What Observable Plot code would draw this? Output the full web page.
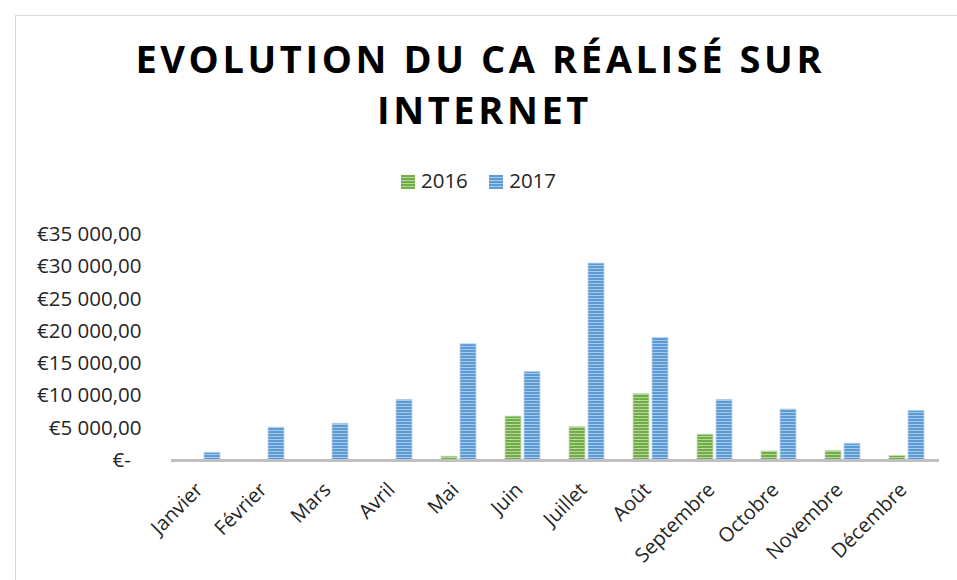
<!DOCTYPE html>
<html>
<head>
<meta charset="utf-8">
<script src="https://cdn.jsdelivr.net/npm/d3@7"></script>
<script src="https://cdn.jsdelivr.net/npm/@observablehq/plot@0.6"></script>
<style>
  html, body { margin: 0; padding: 0; width: 957px; height: 580px; overflow: hidden; background: #fff; }
  #frame { position: absolute; left: 15px; top: 15px; width: 1000px; height: 700px; border: 1px solid #d9d9d9; }
  #title { position: absolute; left: 0; width: 957px; top: 33px; text-align: center; font-family: "Open Sans", sans-serif; font-weight: 700; font-size: 38px; letter-spacing: 3.6px; line-height: 51px; color: #000; }
  #title span.l1 { margin-right: -3.6px; }
  #title span.l2 { margin-left: 12px; }
  #legend { position: absolute; left: 0; width: 957px; top: 166px; text-align: center; font-family: "Open Sans", sans-serif; font-size: 20.5px; color: #262626; }
  #legend span.sw { display: inline-block; width: 14px; height: 14px; margin-right: 6px; vertical-align: -1px; }
  #legend span.item { margin: 0 8px; }
  #chart { position: absolute; left: 0; top: 200px; }
</style>
</head>
<body>
<div id="frame"></div>
<div id="title"><span class="l1">EVOLUTION DU CA RÉALISÉ SUR</span><br><span class="l2">INTERNET</span></div>
<div id="legend">
  <span class="item"><span class="sw" style="background: repeating-linear-gradient(#70ad47 0 2px, #b5d6a0 2px 3px);"></span>2016</span>
  <span class="item"><span class="sw" style="background: repeating-linear-gradient(#5b9bd5 0 2px, #a9cbea 2px 3px);"></span>2017</span>
</div>
<div id="chart"></div>
<script>
const months = ["Janvier", "Février", "Mars", "Avril", "Mai", "Juin", "Juillet", "Août", "Septembre", "Octobre", "Novembre", "Décembre"];
const years = ["2016", "2017"];
const ca2016 = [0, 0, 0, 0, 600, 6800, 5200, 10300, 4000, 1400, 1500, 700];
const ca2017 = [1200, 5100, 5700, 9400, 18000, 13700, 30500, 19000, 9400, 7900, 2600, 7700];
const yTicks = [0, 5000, 10000, 15000, 20000, 25000, 30000, 35000];

const data = [];
months.forEach((m, i) => {
  data.push({month: m, year: "2016", value: ca2016[i]});
  data.push({month: m, year: "2017", value: ca2017[i]});
});

const fmt = d => d === 0 ? "€-\u00a0\u00a0" : "€" + d3.format(",")(d).replace(/,/g, " ") + ",00";

const chart = Plot.plot({
  width: 957,
  height: 380,
  marginTop: 34,
  marginBottom: 120,
  marginLeft: 170,
  marginRight: 17,
  style: {fontFamily: "'Open Sans', sans-serif", fontSize: "20px", color: "#262626", background: "transparent"},
  fx: {domain: months, padding: 0, label: null},
  x: {domain: years, axis: null, paddingInner: 0.15, paddingOuter: 0.68},
  y: {domain: [0, 35000], label: null},
  color: {domain: years, range: ["url(#pat2016)", "url(#pat2017)"]},
  marks: [
    Plot.axisY({ticks: yTicks, tickFormat: fmt, tickSize: 0, tickPadding: 30, fontSize: 20.5, label: null}),
    Plot.axisFx({anchor: "bottom", tickRotate: -45, tickSize: 0, tickPadding: 26, dx: -4, label: null}),
    Plot.barY(data.filter(d => d.value > 0), {fx: "month", x: "year", y: "value", fill: "year", stroke: d => d.year === "2016" ? "#c5e0b4" : "#bdd7ee", strokeWidth: 0.8}),
    Plot.ruleY([0], {stroke: "#bfbfbf", strokeWidth: 3})
  ]
});

const svg = d3.select(chart);
const defs = svg.insert("defs", ":first-child");
function pattern(id, dark, light) {
  const p = defs.append("pattern").attr("id", id).attr("patternUnits", "userSpaceOnUse").attr("width", 4).attr("height", 3);
  p.append("rect").attr("width", 4).attr("height", 3).attr("fill", dark);
  p.append("rect").attr("y", 2).attr("width", 4).attr("height", 1).attr("fill", light);
}
pattern("pat2016", "#70ad47", "#b5d6a0");
pattern("pat2017", "#5b9bd5", "#a9cbea");

document.getElementById("chart").appendChild(chart);
</script>
</body>
</html>
